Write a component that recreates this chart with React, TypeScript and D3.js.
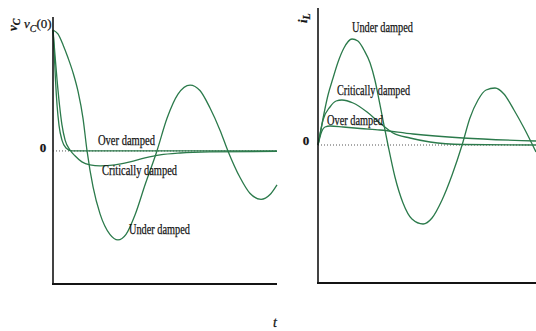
import React from "react";
import * as d3 from "d3";

// Capacitor voltage v_C(t), normalised so v_C(0) = 1
const vcOver: [number, number][] = [
  [0, 1], [0.05, 0.83], [0.11, 0.59], [0.18, 0.38], [0.27, 0.21],
  [0.4, 0.09], [0.58, 0.025], [0.85, 0], [10, 0],
];
const vcCritical: [number, number][] = [
  [0, 1], [0.09, 0.79], [0.18, 0.59], [0.29, 0.38], [0.4, 0.215],
  [0.54, 0.09], [0.76, 0.008], [0.98, -0.04], [1.29, -0.09], [1.65, -0.115],
  [2.1, -0.124], [2.77, -0.115], [3.44, -0.09], [4.11, -0.058], [4.78, -0.033],
  [5.67, -0.017], [7.0, -0.008], [10, -0.004],
];
const vcUnder: [number, number][] = [
  [0, 1], [0.22, 0.967], [0.45, 0.876], [0.67, 0.77], [0.89, 0.65],
  [1.12, 0.49], [1.34, 0.27], [1.52, 0], [1.79, -0.3], [2.1, -0.52],
  [2.54, -0.69], [2.9, -0.736], [3.26, -0.69], [3.66, -0.53], [4.11, -0.28],
  [4.64, 0], [5.09, 0.27], [5.58, 0.47], [6.12, 0.545], [6.56, 0.5],
  [7.01, 0.355], [7.46, 0.17], [7.81, 0], [8.35, -0.22], [8.79, -0.35],
  [9.29, -0.4], [9.69, -0.36], [10, -0.28],
];

// Inductor current i_L(t)
const ilOver: [number, number][] = [
  [0, 0], [0.09, 0.08], [0.18, 0.14], [0.32, 0.18], [0.55, 0.19],
  [1.15, 0.18], [1.93, 0.165], [2.84, 0.15], [4.36, 0.11], [6.65, 0.07],
  [10, 0.04],
];
const ilCritical: [number, number][] = [
  [0, 0], [0.23, 0.25], [0.55, 0.38], [0.83, 0.44], [1.1, 0.45],
  [1.61, 0.42], [2.25, 0.33], [2.84, 0.22], [3.44, 0.12], [4.22, 0.07],
  [5.14, 0.03], [6.65, 0.005], [10, 0],
];
const ilUnder: [number, number][] = [
  [0, 0], [0.09, 0.1], [0.28, 0.32], [0.46, 0.5], [0.69, 0.67],
  [0.92, 0.83], [1.19, 0.97], [1.56, 1.06], [1.83, 1.04], [2.11, 0.95],
  [2.39, 0.82], [2.61, 0.65], [2.8, 0.45], [2.98, 0.25], [3.21, 0],
  [3.53, -0.32], [3.9, -0.58], [4.31, -0.74], [4.82, -0.79], [5.23, -0.73],
  [5.69, -0.55], [6.15, -0.3], [6.61, 0], [6.97, 0.27], [7.34, 0.45],
  [7.71, 0.55], [8.12, 0.57], [8.53, 0.51], [8.99, 0.35], [9.45, 0.17],
  [10, -0.07],
];

const seriesNames = ["Over damped", "Critically damped", "Under damped"];
const zeroTick = "0";

const GREEN = "#2b7a4b";
const INK = "#141414";
const SERIF = "'Liberation Serif', 'DejaVu Serif', serif";

export default function App() {
  const W = 536;
  const H = 331;

  // Left panel scales
  const xL = d3.scaleLinear().domain([0, 10]).range([53, 277]);
  const yL = d3.scaleLinear().domain([-1.1, 1]).range([284, 30]);
  // Right panel scales
  const xR = d3.scaleLinear().domain([0, 10]).range([318, 536]);
  const yR = d3.scaleLinear().domain([-1.38, 1.37]).range([283, 8]);

  const lineL = d3
    .line<[number, number]>()
    .x((d) => xL(d[0]))
    .y((d) => yL(d[1]))
    .curve(d3.curveMonotoneX);
  const lineR = d3
    .line<[number, number]>()
    .x((d) => xR(d[0]))
    .y((d) => yR(d[1]))
    .curve(d3.curveMonotoneX);

  const curveStyle = { fill: "none", stroke: GREEN, strokeWidth: 1.3 };
  const labelStyle = {
    fontFamily: SERIF,
    fontSize: 14,
    fill: INK,
    stroke: INK,
    strokeWidth: 0.25,
  };

  return (
    <svg
      width={W}
      height={H}
      viewBox={`0 0 ${W} ${H}`}
      style={{ position: "absolute", left: 0, top: 0, background: "#fff" }}
    >
      {/* ---------- left panel: v_C ---------- */}
      <line x1={xL(0)} x2={xL(10)} y1={yL(0)} y2={yL(0)} stroke="#555" strokeWidth={1} strokeDasharray="1,2" />
      <path d={lineL(vcOver) ?? ""} {...curveStyle} />
      <path d={lineL(vcCritical) ?? ""} {...curveStyle} />
      <path d={lineL(vcUnder) ?? ""} {...curveStyle} />
      <line x1={xL(0)} x2={xL(0)} y1={17} y2={yL.range()[0] + 1} stroke={INK} strokeWidth={1.6} />
      <line x1={xL(0) - 1} x2={xL(10)} y1={yL.range()[0]} y2={yL.range()[0]} stroke={INK} strokeWidth={2} />

      <text x={43} y={152} textAnchor="middle" {...labelStyle} fontWeight="bold" fontSize={13}>{zeroTick}</text>
      <text x={24} y={28} {...labelStyle} fontSize={13}>
        <tspan fontStyle="italic">v</tspan>
        <tspan fontStyle="italic" fontSize={10} dy={4}>C</tspan>
        <tspan dy={-4}>(0)</tspan>
      </text>
      <text transform="translate(17,31) rotate(-90)" {...labelStyle} fontSize={13} fontWeight="bold" fontStyle="italic">
        <tspan>v</tspan>
        <tspan fontSize={10} dy={3}>C</tspan>
      </text>

      <text x={98} y={145} {...labelStyle} textLength={57} lengthAdjust="spacingAndGlyphs">{seriesNames[0]}</text>
      <text x={102} y={175} {...labelStyle} textLength={75} lengthAdjust="spacingAndGlyphs">{seriesNames[1]}</text>
      <text x={129} y={234} {...labelStyle} textLength={61} lengthAdjust="spacingAndGlyphs">{seriesNames[2]}</text>

      {/* ---------- right panel: i_L ---------- */}
      <line x1={xR(0)} x2={xR(9.7)} y1={yR(0)} y2={yR(0)} stroke="#555" strokeWidth={1} strokeDasharray="1,2" />
      <path d={lineR(ilOver) ?? ""} {...curveStyle} />
      <path d={lineR(ilCritical) ?? ""} {...curveStyle} />
      <path d={lineR(ilUnder) ?? ""} {...curveStyle} />
      <line x1={xR(0)} x2={xR(0)} y1={8} y2={yR.range()[0] + 1} stroke={INK} strokeWidth={1.6} />
      <line x1={xR(0) - 1} x2={xR(10)} y1={yR.range()[0]} y2={yR.range()[0]} stroke={INK} strokeWidth={2} />

      <text x={306} y={145} textAnchor="middle" {...labelStyle} fontWeight="bold" fontSize={13}>{zeroTick}</text>
      <text transform="translate(307,23) rotate(-90)" {...labelStyle} fontSize={13} fontWeight="bold" fontStyle="italic">
        <tspan>i</tspan>
        <tspan fontSize={10} dy={3}>L</tspan>
      </text>

      <text x={352} y={32} {...labelStyle} textLength={61} lengthAdjust="spacingAndGlyphs">{seriesNames[2]}</text>
      <text x={337} y={95} {...labelStyle} textLength={73} lengthAdjust="spacingAndGlyphs">{seriesNames[1]}</text>
      <text x={327} y={125} {...labelStyle} textLength={56} lengthAdjust="spacingAndGlyphs">{seriesNames[0]}</text>

      {/* shared time label */}
      <text x={275} y={327} textAnchor="middle" {...labelStyle} fontSize={14} fontStyle="italic">t</text>
    </svg>
  );
}
